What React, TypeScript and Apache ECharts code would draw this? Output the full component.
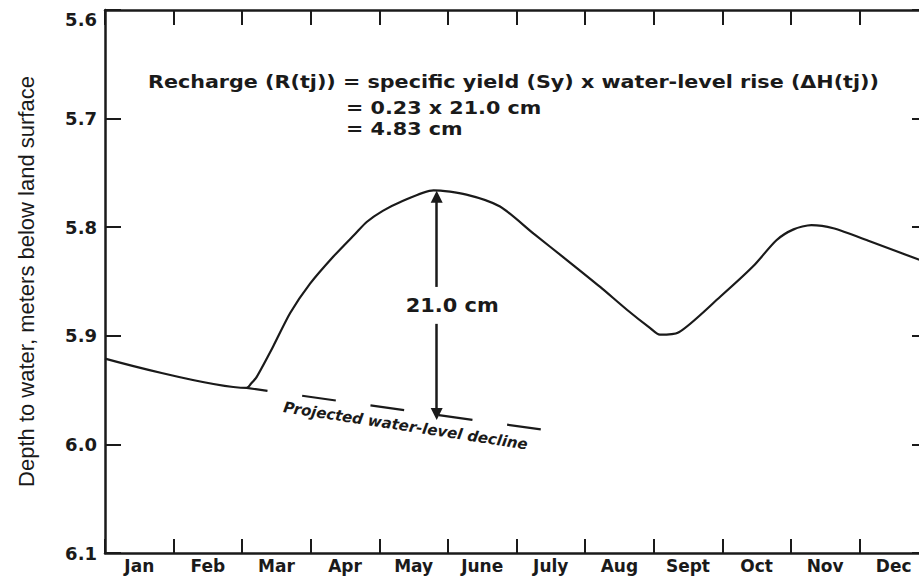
import React, { useEffect, useRef } from 'react';
import * as echarts from 'echarts';

// ---- data ----
const monthLabels = ['Jan', 'Feb', 'Mar', 'Apr', 'May', 'June', 'July', 'Aug', 'Sept', 'Oct', 'Nov', 'Dec'];

// hydrograph: position in year (months from Jan 1) and depth to water (m)
const hydroMonth = [0, 2.066, 2.13, 2.21, 2.45, 2.7, 2.99, 3.33, 3.65, 3.82, 4.05, 4.3, 4.79, 5.27, 5.76, 6.25, 6.73, 7.22, 7.61, 7.95, 8.09, 8.36, 8.97, 9.45, 9.79, 10.04, 10.3, 10.62, 11.15, 12.0];
const hydroDepth = [5.921, 5.948, 5.944, 5.938, 5.91, 5.879, 5.852, 5.827, 5.806, 5.795, 5.785, 5.777, 5.766, 5.77, 5.781, 5.806, 5.83, 5.855, 5.876, 5.893, 5.899, 5.897, 5.864, 5.836, 5.812, 5.802, 5.798, 5.801, 5.813, 5.833];

// projected water-level decline (extrapolated antecedent recession)
const projMonth = [2.066, 6.44];
const projDepth = [5.948, 5.987];

// water-level rise annotation
const peakMonth = 4.836;
const peakDepth = 5.766;
const projectedAtPeak = 5.976;
const riseLabel = '21.0 cm';
const riseLabelDepth = 5.872;
const arrowGapTop = 5.855;
const arrowGapBottom = 5.889;

const projLabel = 'Projected water-level decline';
const projLabelMonth = 4.382;
const projLabelDepth = 5.983;

const formulaLines = [
  'Recharge (R(tj)) = specific yield (Sy) x water-level rise (\u0394H(tj))',
  '= 0.23 x 21.0 cm',
  '= 4.83 cm',
];

const yTitle = 'Depth to water, meters below land surface';

export default function App() {
  const ref = useRef<HTMLDivElement>(null);

  useEffect(() => {
    if (!ref.current) return;
    const chart = echarts.init(ref.current, null, { renderer: 'svg' });
    const ink = '#1a1a1a';
    const bold = '"DejaVu Sans"';

    const axisLine = { show: true, lineStyle: { color: ink, width: 2.5 } };
    const tick = (len: number) => ({ show: true, inside: true, length: len, lineStyle: { color: ink, width: 2 } });

    const option: any = {
      animation: false,
      backgroundColor: '#ffffff',
      grid: { left: 105, top: 10, width: 823, height: 543, containLabel: false, outerBoundsMode: 'none' },
      xAxis: [
        {
          type: 'category',
          data: monthLabels,
          position: 'bottom',
          boundaryGap: true,
          axisLine,
          axisTick: tick(14),
          axisLabel: { interval: 0, margin: 4, color: ink, fontFamily: bold, fontWeight: 'bold', fontSize: 17 },
          splitLine: { show: false },
        },
        {
          type: 'category',
          data: monthLabels,
          position: 'top',
          boundaryGap: true,
          axisLine,
          axisTick: tick(15),
          axisLabel: { show: false },
          splitLine: { show: false },
        },
        { type: 'value', min: 0, max: 12, show: false },
      ],
      yAxis: [
        {
          type: 'value',
          inverse: true,
          min: 5.6,
          max: 6.1,
          interval: 0.1,
          position: 'left',
          name: yTitle,
          nameLocation: 'middle',
          nameGap: 68,
          nameRotate: 90,
          nameTextStyle: { fontFamily: '"Liberation Sans"', fontSize: 22, color: ink },
          axisLine,
          axisTick: tick(16),
          axisLabel: {
            margin: 8,
            color: ink,
            fontFamily: bold,
            fontWeight: 'bold',
            fontSize: 18,
            formatter: (v: number) => v.toFixed(1),
            verticalAlignMinLabel: 'top',
          },
          splitLine: { show: false },
        },
        {
          type: 'value',
          inverse: true,
          min: 5.6,
          max: 6.1,
          interval: 0.1,
          position: 'right',
          axisLine,
          axisTick: tick(16),
          axisLabel: { show: false },
          splitLine: { show: false },
        },
      ],
      series: [
        {
          type: 'line',
          xAxisIndex: 2,
          yAxisIndex: 0,
          data: hydroMonth.map((m, i) => [m, hydroDepth[i]]),
          showSymbol: false,
          smooth: 0.25,
          silent: true,
          lineStyle: { color: ink, width: 2.2 },
          z: 3,
        },
        {
          type: 'line',
          xAxisIndex: 2,
          yAxisIndex: 0,
          data: projMonth.map((m, i) => [m, projDepth[i]]),
          showSymbol: false,
          silent: true,
          lineStyle: { color: ink, width: 2.2, type: [34, 35], dashOffset: 13 },
          markLine: {
            silent: true,
            symbol: ['none', 'triangle'],
            symbolSize: 12,
            label: { show: false },
            emphasis: { disabled: true },
            lineStyle: { color: ink, width: 2.5, type: 'solid' },
            data: [
              [{ coord: [peakMonth, arrowGapTop] }, { coord: [peakMonth, peakDepth + 0.006] }],
              [{ coord: [peakMonth, arrowGapBottom] }, { coord: [peakMonth, projectedAtPeak - 0.004] }],
            ],
          },
        },
      ],
    };
    chart.setOption(option);

    const toPx = (x: number, y: number) => chart.convertToPixel({ seriesIndex: 1 }, [x, y]) as number[];
    const riseP = toPx(peakMonth, riseLabelDepth);
    const projP = toPx(projLabelMonth, projLabelDepth);
    const a = toPx(projMonth[0], projDepth[0]);
    const b = toPx(projMonth[1], projDepth[1]);
    const angle = Math.atan2(b[1] - a[1], b[0] - a[0]);

    const fText = (text: string, x: number, y: number) => ({
      type: 'text',
      x,
      y,
      scaleX: 1.15,
      style: {
        text,
        fill: ink,
        font: 'bold 18px "DejaVu Sans"',
        align: 'left',
        verticalAlign: 'middle',
        textAlign: 'left',
        textVerticalAlign: 'middle',
      },
    });

    chart.setOption({
      graphic: [
        fText(formulaLines[0], 148, 82),
        fText(formulaLines[1], 346, 108),
        fText(formulaLines[2], 346, 129),
        {
          type: 'text',
          x: riseP[0] - 31,
          y: riseP[1],
          scaleX: 1.1,
          style: {
            text: riseLabel,
            fill: ink,
            font: 'bold 19px "DejaVu Sans"',
            align: 'left',
            verticalAlign: 'middle',
            textAlign: 'left',
            textVerticalAlign: 'middle',
          },
        },
        {
          type: 'text',
          x: projP[0],
          y: projP[1],
          rotation: -angle - 0.012,
          style: {
            text: projLabel,
            fill: ink,
            font: 'italic bold 15px "DejaVu Sans"',
            align: 'center',
            verticalAlign: 'middle',
            textAlign: 'center',
            textVerticalAlign: 'middle',
          },
        },
      ],
    });

    return () => chart.dispose();
  }, []);

  return (
    <div
      ref={ref}
      style={{ position: 'fixed', left: 0, top: 0, width: 919, height: 577, background: '#ffffff' }}
    />
  );
}
